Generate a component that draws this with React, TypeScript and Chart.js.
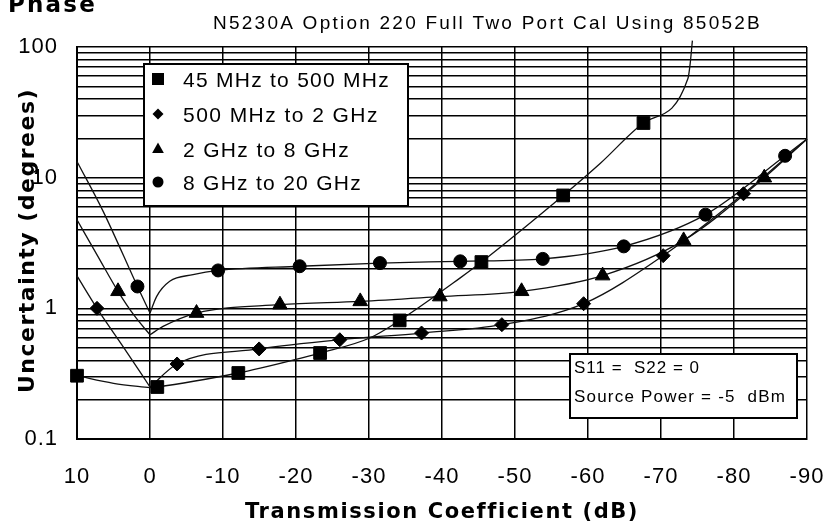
import React, { useEffect, useRef } from 'react';
import { Chart, registerables } from 'chart.js';

Chart.register(...registerables);

// ---------- data ----------
const xTickValues = [10, 0, -10, -20, -30, -40, -50, -60, -70, -80, -90];
const yTickValues = [
  0.1, 0.2, 0.3, 0.4, 0.5, 0.6, 0.7, 0.8, 0.9,
  1, 2, 3, 4, 5, 6, 7, 8, 9,
  10, 20, 30, 40, 50, 60, 70, 80, 90, 100,
];
const yLabelValues = [0.1, 1, 10, 100];

const seriesNames = ['45 MHz to 500 MHz', '500 MHz to 2 GHz', '2 GHz to 8 GHz', '8 GHz to 20 GHz'];

// 45 MHz to 500 MHz (squares)
const sqMarkX = [10, -1, -12.1, -23.3, -34.2, -45.4, -56.6, -67.6];
const sqMarkY = [0.305, 0.25, 0.32, 0.455, 0.808, 2.26, 7.31, 26.2];
const sqLeftX = [10, 5, 0];
const sqLeftY = [0.305, 0.267, 0.247];
const sqRightX = [0, -1, -12.1, -15.1, -23.3, -30.1, -34.2, -42.5, -45.4, -56.6, -61.7, -67.6, -73.7, -74.0, -74.3];
const sqRightY = [0.247, 0.25, 0.32, 0.349, 0.455, 0.593, 0.808, 1.71, 2.26, 7.31, 12.9, 26.2, 57.6, 75, 112];

// 500 MHz to 2 GHz (diamonds)
const diMarkX = [7.26, -3.71, -14.95, -26.0, -37.2, -48.2, -59.4, -70.3, -81.3];
const diMarkY = [1.0, 0.375, 0.489, 0.575, 0.647, 0.75, 1.085, 2.53, 7.53];
const diLeftX = [10, 7.26, 3.69, 0];
const diLeftY = [1.77, 1.0, 0.51, 0.25];
const diRightX = [0, -3.71, -14.95, -26.0, -37.2, -48.2, -59.4, -70.3, -81.3, -90];
const diRightY = [0.25, 0.375, 0.489, 0.575, 0.647, 0.75, 1.085, 2.53, 7.53, 19.8];

// 2 GHz to 8 GHz (triangles)
const trMarkX = [4.38, -6.37, -17.8, -28.8, -39.7, -50.9, -62.0, -73.1, -84.15];
const trMarkY = [1.35, 0.92, 1.066, 1.13, 1.23, 1.35, 1.78, 3.31, 10.0];
const trLeftX = [10, 7.12, 4.38, 2.09, 0];
const trLeftY = [4.76, 2.49, 1.35, 0.87, 0.628];
const trRightX = [0, -1.79, -6.37, -17.8, -28.8, -39.7, -50.9, -62.0, -73.1, -84.15, -90];
const trRightY = [0.628, 0.727, 0.92, 1.066, 1.13, 1.23, 1.35, 1.78, 3.31, 10.0, 19.8];

// 8 GHz to 20 GHz (circles)
const ciMarkX = [1.72, -9.33, -20.5, -31.5, -42.5, -53.8, -64.9, -76.1, -87.0];
const ciMarkY = [1.47, 1.95, 2.1, 2.22, 2.29, 2.39, 2.98, 5.21, 14.7];
const ciLeftX = [10, 6.4, 1.72, 0];
const ciLeftY = [13.3, 5.5, 1.47, 0.92];
const ciRightX = [0, -0.9, -2.7, -5.9, -9.33, -20.5, -31.5, -42.5, -53.8, -64.9, -76.1, -87.0, -90];
const ciRightY = [0.92, 1.23, 1.61, 1.81, 1.95, 2.1, 2.22, 2.29, 2.39, 2.98, 5.21, 14.7, 19.8];

const titleText = 'Phase';
const subtitleText = 'N5230A Option 220 Full Two Port Cal Using 85052B';
const xTitleText = 'Transmission Coefficient (dB)';
const yTitleText = 'Uncertainty (degrees)';
const noteLines = ['S11 =  S22 = 0', 'Source Power = -5  dBm'];

// ---------- helpers ----------
const FONT = '"Liberation Sans", Arial, sans-serif';
const BOLD_FONT = '"DejaVu Sans", "Liberation Sans", Arial, sans-serif';
const pts = (xs: number[], ys: number[]) => xs.map((x, i) => ({ x, y: ys[i] }));

function fitText(ctx: CanvasRenderingContext2D, text: string, x: number, y: number, width: number, font: string) {
  ctx.save();
  ctx.font = font;
  (ctx as any).letterSpacing = '0px';
  const natural = ctx.measureText(text).width;
  const spacing = (width - natural) / Math.max(1, text.length);
  (ctx as any).letterSpacing = spacing.toFixed(2) + 'px';
  ctx.textAlign = 'left';
  ctx.textBaseline = 'alphabetic';
  ctx.fillStyle = '#000';
  ctx.fillText(text, x, y);
  ctx.restore();
}

function marker(ctx: CanvasRenderingContext2D, style: string, x: number, y: number, s: number) {
  ctx.beginPath();
  if (style === 'rect') {
    ctx.rect(x - s, y - s, 2 * s, 2 * s);
  } else if (style === 'rectRot') {
    ctx.moveTo(x, y - s);
    ctx.lineTo(x + s, y);
    ctx.lineTo(x, y + s);
    ctx.lineTo(x - s, y);
    ctx.closePath();
  } else if (style === 'triangle') {
    ctx.moveTo(x, y - s);
    ctx.lineTo(x + s * 0.9, y + s * 0.6);
    ctx.lineTo(x - s * 0.9, y + s * 0.6);
    ctx.closePath();
  } else {
    ctx.arc(x, y, s, 0, Math.PI * 2);
  }
  ctx.fill();
}

const spacingPlugin = {
  id: 'tickSpacing',
  beforeUpdate(chart: any) {
    chart.ctx.letterSpacing = '1px';
  },
  beforeDraw(chart: any) {
    chart.ctx.letterSpacing = '1px';
  },
};

const decorPlugin = {
  id: 'decor',
  afterDraw(chart: any) {
    const ctx: CanvasRenderingContext2D = chart.ctx;
    ctx.save();
    (ctx as any).letterSpacing = '0px';
    // titles
    fitText(ctx, titleText, 8, 12, 89, `bold 23px ${BOLD_FONT}`);
    fitText(ctx, subtitleText, 213, 29, 549, `19px ${FONT}`);
    fitText(ctx, xTitleText, 245, 518, 392, `bold 21px ${BOLD_FONT}`);
    ctx.save();
    ctx.translate(34, 393);
    ctx.rotate(-Math.PI / 2);
    fitText(ctx, yTitleText, 0, 0, 305, `bold 22px ${BOLD_FONT}`);
    ctx.restore();

    // legend box
    ctx.fillStyle = '#fff';
    ctx.strokeStyle = '#000';
    ctx.lineWidth = 2;
    ctx.fillRect(144, 64, 264, 142);
    ctx.strokeRect(144, 64, 264, 142);
    const styles = ['rect', 'rectRot', 'triangle', 'circle'];
    const sizes = [6, 5.5, 6.5, 5.5];
    const rows = [79, 114, 149, 182];
    const widths = [207, 196, 167, 179];
    seriesNames.forEach((name, i) => {
      ctx.fillStyle = '#000';
      marker(ctx, styles[i], 158, rows[i], sizes[i]);
      fitText(ctx, name, 183, rows[i] + 7.5, widths[i], `21px ${FONT}`);
    });

    // note box
    ctx.fillStyle = '#fff';
    ctx.strokeStyle = '#000';
    ctx.lineWidth = 2;
    ctx.fillRect(570, 354, 227, 64);
    ctx.strokeRect(570, 354, 227, 64);
    fitText(ctx, noteLines[0], 574, 372.5, 126, `17px ${FONT}`);
    fitText(ctx, noteLines[1], 574, 401.5, 212, `17px ${FONT}`);
    ctx.restore();
  },
};

function curve(xs: number[], ys: number[]) {
  return {
    data: pts(xs, ys),
    showLine: true,
    borderColor: '#111',
    borderWidth: 1.3,
    pointRadius: 0,
    cubicInterpolationMode: 'monotone' as const,
    clip: false as const,
    order: 2,
  };
}

function marks(xs: number[], ys: number[], style: string, radius: number) {
  return {
    data: pts(xs, ys),
    showLine: false,
    pointStyle: style,
    pointRadius: radius,
    backgroundColor: '#000',
    borderColor: '#000',
    borderWidth: 1,
    clip: false as const,
    order: 1,
  };
}

export default function App() {
  const ref = useRef<HTMLCanvasElement>(null);
  useEffect(() => {
    const tickFont = { family: FONT, size: 22 };
    const chart = new Chart(ref.current as HTMLCanvasElement, {
      type: 'scatter',
      data: {
        datasets: [
          curve(sqLeftX, sqLeftY),
          curve(sqRightX, sqRightY),
          curve(diLeftX, diLeftY),
          curve(diRightX, diRightY),
          curve(trLeftX, trLeftY),
          curve(trRightX, trRightY),
          curve(ciLeftX, ciLeftY),
          curve(ciRightX, ciRightY),
          marks(sqMarkX, sqMarkY, 'rect', 9),
          marks(diMarkX, diMarkY, 'rectRot', 7),
          marks(trMarkX, trMarkY, 'triangle', 8.5),
          marks(ciMarkX, ciMarkY, 'circle', 6.5),
        ] as any,
      },
      options: {
        animation: false,
        responsive: false,
        devicePixelRatio: 1,
        events: [],
        layout: { padding: { top: 47, right: 19, left: 0, bottom: 0 } },
        plugins: {
          legend: { display: false },
          title: { display: false },
          tooltip: { enabled: false },
        },
        scales: {
          x: {
            type: 'linear',
            min: -90,
            max: 10,
            reverse: true,
            position: 'bottom',
            afterFit: (s: any) => {
              s.height = 85;
            },
            afterBuildTicks: (s: any) => {
              s.ticks = xTickValues.map((v) => ({ value: v }));
            },
            ticks: {
              font: tickFont,
              color: '#000',
              padding: 0,
              maxRotation: 0,
              autoSkip: false,
              callback: (v: any) => String(v),
            },
            grid: { color: '#000', lineWidth: 1.5, drawTicks: true, tickLength: 25, tickColor: 'rgba(0,0,0,0)' },
            border: { color: '#000', width: 2 },
          },
          y: {
            type: 'logarithmic',
            min: 0.1,
            max: 100,
            position: 'left',
            afterFit: (s: any) => {
              s.width = 77;
            },
            afterBuildTicks: (s: any) => {
              s.ticks = yTickValues.map((v) => ({ value: v }));
            },
            ticks: {
              font: tickFont,
              color: '#000',
              padding: 0,
              autoSkip: false,
              callback: (v: any) =>
                yLabelValues.some((l) => Math.abs(l - Number(v)) < l * 1e-6) ? String(v) : '',
            },
            grid: { color: '#000', lineWidth: 1.5, drawTicks: true, tickLength: 19, tickColor: 'rgba(0,0,0,0)' },
            border: { color: '#000', width: 2 },
          },
        },
      } as any,
      plugins: [spacingPlugin, decorPlugin],
    });
    return () => chart.destroy();
  }, []);

  return (
    <div style={{ position: 'fixed', left: 0, top: 0, width: 826, height: 524, background: '#fff' }}>
      <canvas ref={ref} width={826} height={524} style={{ display: 'block' }} />
    </div>
  );
}
